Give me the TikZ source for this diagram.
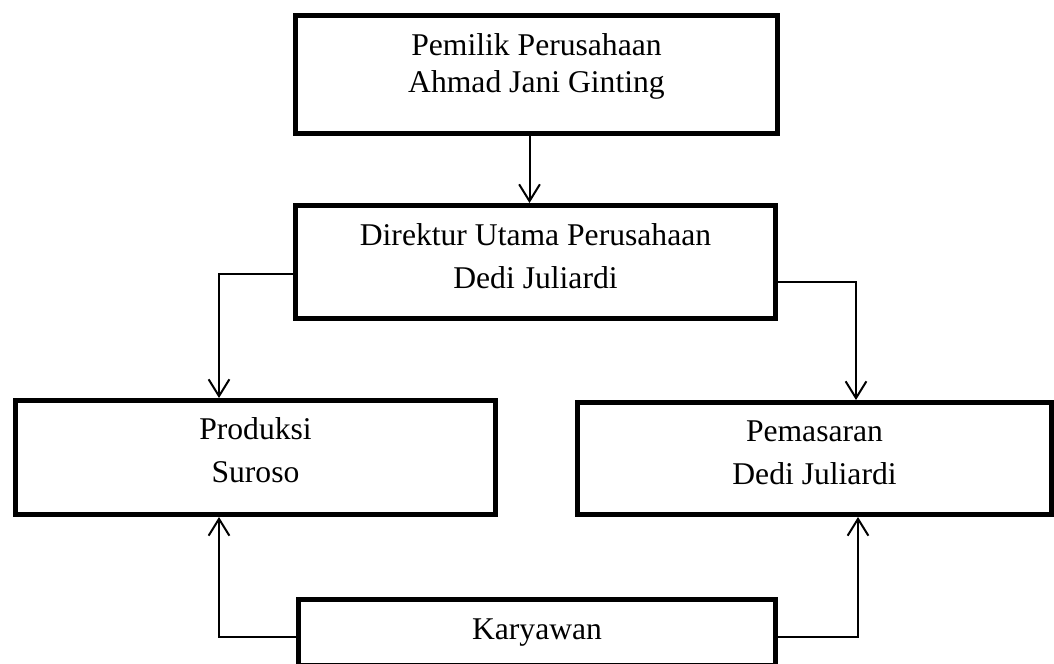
\documentclass[tikz,border=0pt]{standalone}
\usepackage{fontspec}
\setmainfont{Liberation Serif}
\usetikzlibrary{arrows.meta}
\tikzset{
	block/.style={draw, line width=0.125cm, align=center, font=\fontsize{22.5}{30.6}\selectfont},
	link/.style={draw, line width=0.05cm, -{Straight Barb[length=0.42cm, width=0.52cm]}}
}

\begin{document}
\begin{tikzpicture}
		\path[use as bounding box, clip] (0,0) rectangle (26.35,-16.6);
		
		\node[block, minimum width=12.05cm, minimum height=2.95cm, text depth=16.8pt, font=\fontsize{22.5}{26.3}\selectfont] (pemilik) at (13.4125,-1.8625) {Pemilik Perusahaan\\Ahmad Jani Ginting};
		\node[block, minimum width=12cm, minimum height=2.825cm, text depth=9pt] (direktur) at (13.3875,-6.55) {Direktur Utama Perusahaan\\Dedi Juliardi};
		\node[block, minimum width=12cm, minimum height=2.85cm, text depth=11.2pt] (produksi) at (6.3875,-11.4375) {Produksi\\Suroso};
		\node[block, minimum width=11.85cm, minimum height=2.8cm, text depth=8.3pt] (pemasaran) at (20.3625,-11.4625) {Pemasaran\\Dedi Juliardi};
		\node[block, minimum width=11.925cm, minimum height=1.65cm] (karyawan) at (13.425,-15.8125) {Karyawan};
		
		\draw[link] ([xshift=-0.175cm]pemilik.south) -- ([xshift=-0.175cm]pemilik.south |- direktur.north);
		\draw[link] ([yshift=-0.3cm]direktur.west) -| ([xshift=-0.9125cm]produksi.north);
		\draw[link] ([yshift=-0.5cm]direktur.east) -| ([xshift=1.0375cm]pemasaran.north);
		\draw[link] ([yshift=-0.1125cm]karyawan.west) -| ([xshift=-0.9125cm]produksi.south);
		\draw[link] ([yshift=-0.1125cm]karyawan.east) -| ([xshift=1.0875cm]pemasaran.south);
	\end{tikzpicture}
\end{document}
